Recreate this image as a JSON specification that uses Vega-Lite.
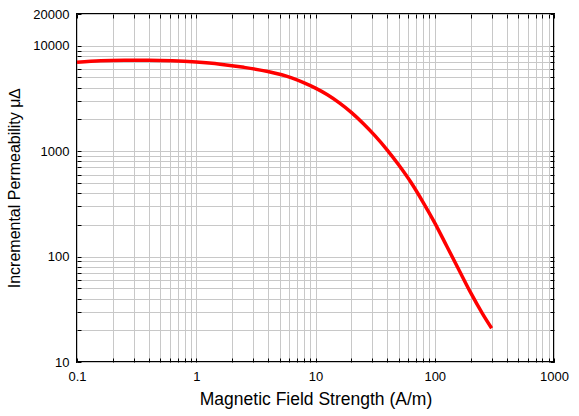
{
  "$schema": "https://vega.github.io/schema/vega-lite/v6.json",
  "width": 477,
  "height": 348,
  "autosize": {"type": "none"},
  "padding": {"left": 77, "top": 14, "right": 25, "bottom": 54},
  "background": "white",
  "config": {
    "view": {"stroke": "black", "strokeWidth": 2},
    "font": "Liberation Sans",
    "axis": {
      "labelFont": "Liberation Sans",
      "titleFont": "Liberation Sans",
      "labelFontSize": 13,
      "labelColor": "black",
      "titleFontSize": 16,
      "titleFontWeight": "normal",
      "titleColor": "black",
      "gridColor": "#c8c8c8",
      "gridWidth": 1,
      "gridOpacity": 1,
      "domain": false,
      "tickColor": "black",
      "tickSize": -4,
      "tickWidth": 1
    }
  },
  "data": {
    "values": [
      {"H": 0.1, "mu": 6966},
      {"H": 0.1585, "mu": 7194},
      {"H": 0.2512, "mu": 7278},
      {"H": 0.3981, "mu": 7295},
      {"H": 0.631, "mu": 7211},
      {"H": 1.0, "mu": 6998},
      {"H": 1.585, "mu": 6683},
      {"H": 2.512, "mu": 6237},
      {"H": 3.981, "mu": 5689},
      {"H": 6.31, "mu": 4955},
      {"H": 7.943, "mu": 4467},
      {"H": 10, "mu": 3963},
      {"H": 12.59, "mu": 3428},
      {"H": 15.85, "mu": 2871},
      {"H": 19.95, "mu": 2333},
      {"H": 25.12, "mu": 1832},
      {"H": 31.62, "mu": 1396},
      {"H": 39.81, "mu": 1030},
      {"H": 50.12, "mu": 735},
      {"H": 63.1, "mu": 507},
      {"H": 79.43, "mu": 331},
      {"H": 100, "mu": 209},
      {"H": 125.9, "mu": 126},
      {"H": 158.5, "mu": 75.9},
      {"H": 199.5, "mu": 45.7},
      {"H": 251.2, "mu": 28.8},
      {"H": 300, "mu": 20.9}
    ]
  },
  "layer": [
    {
      "mark": {"type": "line", "color": "#ff0000", "strokeWidth": 3.5, "interpolate": "monotone"},
      "encoding": {
        "x": {
          "field": "H", "type": "quantitative",
          "scale": {"type": "log", "domain": [0.1, 1000], "nice": false},
          "axis": {
            "orient": "bottom",
            "title": "Magnetic Field Strength (A/m)",
            "titleFontSize": 17.5,
            "titlePadding": 7,
            "labelPadding": 12,
            "values": [0.1,0.2,0.3,0.4,0.5,0.6,0.7,0.8,0.9,1,2,3,4,5,6,7,8,9,10,20,30,40,50,60,70,80,90,100,200,300,400,500,600,700,800,900,1000],
            "labelExpr": "indexof([0.1,1,10,100,1000], datum.value) >= 0 ? format(datum.value, '~g') : ''",
            "labelFlush": false,
            "labelOverlap": false
          }
        },
        "y": {
          "field": "mu", "type": "quantitative",
          "scale": {"type": "log", "domain": [10, 20000], "nice": false},
          "axis": {
            "orient": "left",
            "title": "Incremental Permeability μ∆",
            "titlePadding": 10,
            "labelPadding": 12,
            "values": [10,20,30,40,50,60,70,80,90,100,200,300,400,500,600,700,800,900,1000,2000,3000,4000,5000,6000,7000,8000,9000,10000,20000],
            "labelExpr": "indexof([10,100,1000,10000,20000], datum.value) >= 0 ? format(datum.value, '~g') : ''",
            "labelFlush": false,
            "labelOverlap": false
          }
        }
      }
    },
    {
      "mark": {"type": "line", "opacity": 0},
      "encoding": {
        "x": {
          "field": "H", "type": "quantitative",
          "scale": {"type": "log", "domain": [0.1, 1000], "nice": false},
          "axis": {
            "orient": "top", "title": null, "labels": false, "grid": false,
            "values": [0.1,0.2,0.3,0.4,0.5,0.6,0.7,0.8,0.9,1,2,3,4,5,6,7,8,9,10,20,30,40,50,60,70,80,90,100,200,300,400,500,600,700,800,900,1000]
          }
        },
        "y": {
          "field": "mu", "type": "quantitative",
          "scale": {"type": "log", "domain": [10, 20000], "nice": false},
          "axis": {
            "orient": "right", "title": null, "labels": false, "grid": false,
            "values": [10,20,30,40,50,60,70,80,90,100,200,300,400,500,600,700,800,900,1000,2000,3000,4000,5000,6000,7000,8000,9000,10000,20000]
          }
        }
      }
    }
  ],
  "resolve": {"axis": {"x": "independent", "y": "independent"}}
}
